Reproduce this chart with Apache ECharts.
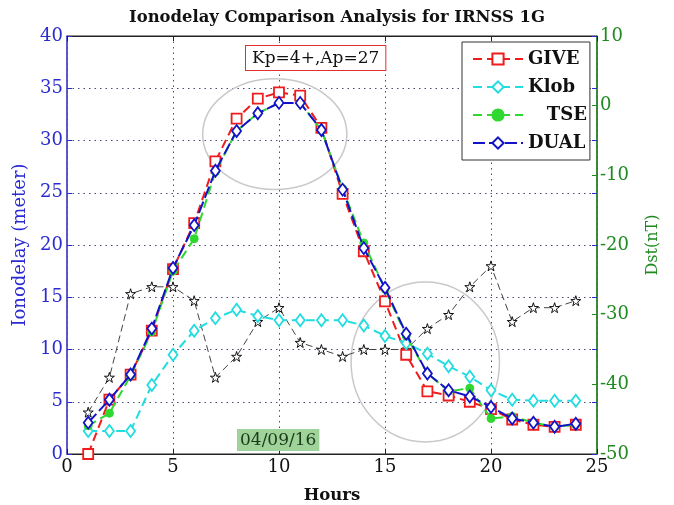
<!DOCTYPE html>
<html>
<head>
<meta charset="utf-8">
<script src="https://cdn.jsdelivr.net/npm/echarts@6/dist/echarts.min.js"></script>
<style>
  html, body { margin: 0; padding: 0; background: #fff; }
  #chart { width: 674px; height: 505px; }
</style>
</head>
<body>
<div id="chart"></div>
<script>
// Hours of day (UT) on 04/09/16
const hours = [1,2,3,4,5,6,7,8,9,10,11,12,13,14,15,16,17,18,19,20,21,22,23,24];

// Ionospheric delay estimates for IRNSS 1G (meters)
const give = [0.0,5.2,7.6,11.8,17.7,22.1,28.0,32.1,34.0,34.6,34.3,31.2,24.9,19.4,14.6,9.5,6.0,5.6,5.0,4.3,3.3,2.8,2.6,2.8];
const klob = [2.2,2.2,2.2,6.6,9.5,11.8,13.0,13.8,13.2,12.8,12.8,12.8,12.8,12.3,11.3,10.6,9.6,8.4,7.4,6.1,5.2,5.1,5.1,5.1];
const tse  = [2.7,3.9,7.5,11.7,17.5,20.6,27.0,30.9,32.6,33.6,33.6,31.0,25.4,20.2,15.8,11.3,7.7,6.0,6.3,3.4,3.6,3.0,2.6,2.8];
const dual = [3.0,5.2,7.6,12.0,17.8,21.9,27.1,30.9,32.6,33.6,33.6,31.0,25.3,19.7,15.9,11.5,7.7,6.1,5.5,4.5,3.4,3.0,2.6,2.9];

// Dst index (nT), right axis
const dst = [-44,-39,-27,-26,-26,-28,-39,-36,-31,-29,-34,-35,-36,-35,-35,-35,-32,-30,-26,-23,-31,-29,-29,-28];

// Axis tick settings
const xTicks = { min: 0, max: 25, step: 5 };
const leftTicks = { min: 0, max: 40, step: 5 };
const rightTicks = { min: -50, max: 10, step: 10 };

// Highlight ellipses in data units: [centerHour, centerMeters, radiusHours, radiusMeters]
const highlights = [
  [9.8, 30.6, 3.4, 5.3],
  [16.9, 8.8, 3.5, 7.65]
];

const SERIF = '"DejaVu Serif", "Liberation Serif", serif';
const BLUE = '#2b2bd0';
const GREEN = '#1f8a1f';
const GRIDC = '#4a4a78';

const pairs = arr => hours.map((h, i) => [h, arr[i]]);
const STAR = 'path://M50,0 L61,35 L98,35 L68,57 L79,91 L50,70 L21,91 L32,57 L2,35 L39,35 Z';

const chart = echarts.init(document.getElementById('chart'), null, { renderer: 'canvas' });

const option = {
  backgroundColor: '#fff',
  animation: false,
  title: {
    text: 'Ionodelay Comparison Analysis for IRNSS 1G',
    left: 'center', top: 5,
    textStyle: { fontFamily: SERIF, fontSize: 16.4, fontWeight: 'bold', color: '#111' }
  },
  grid: {
    left: 67, right: 77, top: 36, bottom: 51,
    outerBoundsMode: 'none', containLabel: false,
    show: true, borderColor: '#222', borderWidth: 1
  },
  legend: {
    orient: 'vertical',
    left: 462, top: 42,
    backgroundColor: '#fff',
    borderColor: '#333', borderWidth: 1,
    padding: [7, 3, 7, 10],
    itemGap: 8,
    itemWidth: 50, itemHeight: 14,
    textStyle: { fontFamily: SERIF, fontSize: 18, fontWeight: 'bold', color: '#111', lineHeight: 20 },
    formatter: n => n === 'TSE' ? '   TSE' : n,
    data: ['GIVE', 'Klob', 'TSE', 'DUAL']
  },
  xAxis: [{
    type: 'value', min: xTicks.min, max: xTicks.max, interval: xTicks.step,
    name: 'Hours', nameLocation: 'middle', nameGap: 33,
    nameTextStyle: { fontFamily: SERIF, fontSize: 16.5, fontWeight: 'bold', color: '#111' },
    axisLine: { onZero: false, lineStyle: { color: '#222' } },
    axisTick: { inside: true, length: 5, lineStyle: { color: '#222' } },
    axisLabel: { fontFamily: SERIF, fontSize: 18, color: '#111', margin: 4 },
    splitLine: { show: true, lineStyle: { color: GRIDC, type: [1.5, 4], width: 1 } }
  }, {
    type: 'value', position: 'top', min: xTicks.min, max: xTicks.max, interval: xTicks.step,
    axisLine: { onZero: false, lineStyle: { color: '#222' } },
    axisTick: { inside: true, length: 5, lineStyle: { color: '#222' } },
    axisLabel: { show: false }, splitLine: { show: false }
  }],
  yAxis: [{
    type: 'value', min: leftTicks.min, max: leftTicks.max, interval: leftTicks.step,
    name: 'Ionodelay (meter)', nameLocation: 'middle', nameGap: 33,
    nameTextStyle: { fontFamily: SERIF, fontSize: 18, color: BLUE },
    axisLine: { show: true, onZero: false, lineStyle: { color: '#4a4ad8', width: 1.5 } },
    axisTick: { show: true, inside: true, length: 5, lineStyle: { color: BLUE } },
    axisLabel: { fontFamily: SERIF, fontSize: 18, color: BLUE, margin: 4 },
    splitLine: { show: true, lineStyle: { color: GRIDC, type: [1.5, 4], width: 1 } }
  }, {
    type: 'value', position: 'right', min: rightTicks.min, max: rightTicks.max, interval: rightTicks.step,
    name: 'Dst(nT)', nameLocation: 'middle', nameGap: 48,
    nameTextStyle: { fontFamily: SERIF, fontSize: 16, color: GREEN },
    axisLine: { show: true, onZero: false, lineStyle: { color: GREEN, width: 1.5 } },
    axisTick: { show: true, inside: true, length: 5, lineStyle: { color: GREEN } },
    axisLabel: { fontFamily: SERIF, fontSize: 18, color: GREEN, margin: 3 },
    splitLine: { show: false }
  }, {
    type: 'value', position: 'right', min: leftTicks.min, max: leftTicks.max, interval: leftTicks.step,
    axisLine: { show: false, onZero: false },
    axisTick: { show: true, inside: true, length: 5, lineStyle: { color: BLUE } },
    axisLabel: { show: false }, splitLine: { show: false }
  }],
  series: [
    {
      name: 'Dst', type: 'line', yAxisIndex: 1, data: pairs(dst),
      symbol: STAR, symbolSize: 10, z: 1,
      lineStyle: { color: '#444', width: 1, type: [7, 4] },
      itemStyle: { color: '#fff', borderColor: '#111', borderWidth: 1 }
    },
    {
      name: 'GIVE', type: 'line', data: pairs(give),
      symbol: 'rect', symbolSize: 10, z: 2,
      lineStyle: { color: '#ee1c1c', width: 2, type: [9, 5] },
      itemStyle: { color: '#fff', borderColor: '#ee1c1c', borderWidth: 1.8 }
    },
    {
      name: 'Klob', type: 'line', data: pairs(klob),
      symbol: 'diamond', symbolSize: [9, 12], z: 3,
      lineStyle: { color: '#22dce0', width: 2, type: [9, 5] },
      itemStyle: { color: '#fff', borderColor: '#22dce0', borderWidth: 1.8 }
    },
    {
      name: 'TSE', type: 'line', data: pairs(tse),
      symbol: 'circle', symbolSize: 8, z: 4,
      lineStyle: { color: '#2fd82f', width: 2, type: [9, 5] },
      itemStyle: { color: '#2fd82f', borderColor: '#2fd82f', borderWidth: 1 }
    },
    {
      name: 'DUAL', type: 'line', data: pairs(dual),
      symbol: 'diamond', symbolSize: [9, 12], z: 5,
      lineStyle: { color: '#1212c8', width: 2, type: [12, 4] },
      itemStyle: { color: '#fff', borderColor: '#1212c8', borderWidth: 1.8 }
    }
  ]
};

chart.setOption(option);

// Annotations: gray highlight ellipses placed through the axis scales, plus text tags
const ellipses = highlights.map(([ch, cv, rh, rv]) => {
  const c = chart.convertToPixel({ xAxisIndex: 0, yAxisIndex: 0 }, [ch, cv]);
  const e = chart.convertToPixel({ xAxisIndex: 0, yAxisIndex: 0 }, [ch + rh, cv - rv]);
  return {
    type: 'ellipse', z: 0, silent: true,
    shape: { cx: c[0], cy: c[1], rx: Math.abs(e[0] - c[0]), ry: Math.abs(e[1] - c[1]) },
    style: { fill: 'none', stroke: '#c9c9c9', lineWidth: 1.5 }
  };
});

chart.setOption({
  graphic: ellipses.concat([
    {
      type: 'text', left: 245, top: 45, z: 10,
      style: {
        text: 'Kp=4+,Ap=27', font: '17px ' + SERIF, fill: '#111',
        backgroundColor: '#fff', borderColor: '#e03030', borderWidth: 1,
        padding: [4, 6, 3, 6]
      }
    },
    {
      type: 'text', left: 237, top: 429, z: 10,
      style: {
        text: '04/09/16', font: '17px ' + SERIF, fill: '#1a3a1a',
        backgroundColor: '#9fd39a', padding: [3, 3, 2, 3]
      }
    }
  ])
});
</script>
</body>
</html>
